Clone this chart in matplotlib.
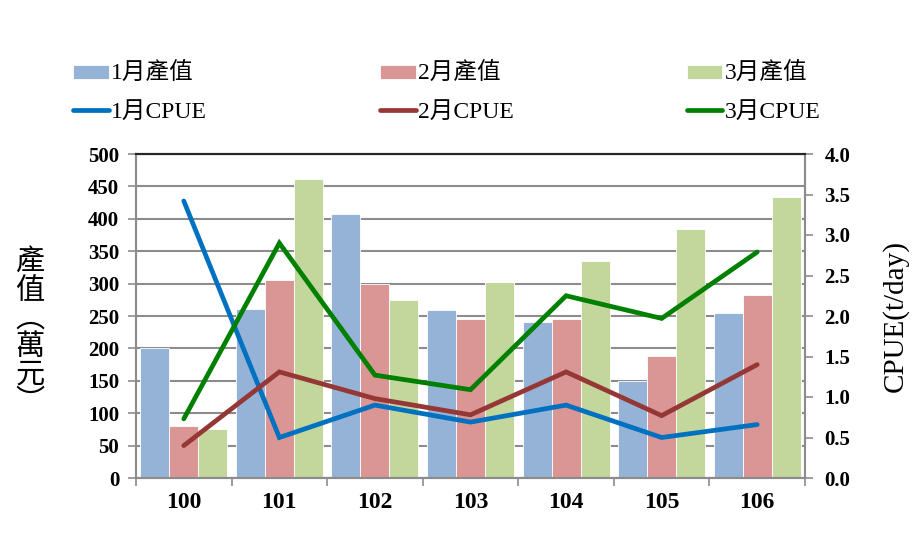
import numpy as np
import matplotlib
matplotlib.use("Agg")
import matplotlib.pyplot as plt

plt.rcParams['font.family'] = ['Liberation Serif', 'Noto Sans CJK TC']

# data
years = ['100', '101', '102', '103', '104', '105', '106']
val_jan = [200, 261, 407, 259, 241, 150, 254]
val_feb = [80, 306, 300, 245, 245, 189, 283]
val_mar = [76, 461, 274, 302, 335, 384, 433]
cpue_jan = [3.42, 0.50, 0.90, 0.69, 0.90, 0.50, 0.66]
cpue_feb = [0.40, 1.31, 0.98, 0.78, 1.31, 0.77, 1.40]
cpue_mar = [0.73, 2.90, 1.27, 1.09, 2.25, 1.97, 2.79]

bar_colors = ['#95B3D7', '#DA9694', '#C3D69B']
line_colors = ['#0070C0', '#953735', '#008000']
grid_c = '#8C8C8C'

fig = plt.figure(figsize=(9.22, 5.54), dpi=100)
ax = fig.add_axes([136/922, 1-478/554, (805-136)/922, (478-154)/554])
ax2 = ax.twinx()

x = np.arange(len(years))
w = 0.303
bars = []
for i, (vals, c, lab) in enumerate(zip([val_jan, val_feb, val_mar], bar_colors,
                                        ['1月產值', '2月產值', '3月產值'])):
    b = ax.bar(x + (i - 1) * w, vals, width=w, color=c, edgecolor='white',
               linewidth=0.6, label=lab, zorder=2)
    bars.append(b)

lines = []
for vals, c, lab in zip([cpue_jan, cpue_feb, cpue_mar], line_colors,
                        ['1月CPUE', '2月CPUE', '3月CPUE']):
    l, = ax2.plot(x, vals, color=c, lw=3.4, solid_capstyle='round',
                  solid_joinstyle='miter', label=lab, zorder=3)
    lines.append(l)

# left axis
ax.set_xlim(-0.5, len(years) - 0.5)
ax.set_ylim(0, 500)
ax.set_yticks(np.arange(0, 501, 50))
ax.yaxis.grid(True, color=grid_c, lw=1.5, zorder=0)
ax.set_axisbelow(True)
ax.set_xticks(x)
ax.set_xticklabels(years, fontsize=17, fontweight='bold')
ax.set_xticks(np.arange(-0.5, len(years), 1), minor=True)
ax.tick_params(axis='x', which='major', length=0, pad=10)
ax.tick_params(axis='x', which='minor', length=6, color=grid_c, width=1.2)
ax.tick_params(axis='y', length=6, color=grid_c, width=1.2, labelsize=15, pad=6)
for t in ax.get_yticklabels():
    t.set_fontweight('bold')

# right axis
ax2.set_ylim(0, 4)
ax2.set_yticks(np.arange(0, 4.01, 0.5))
ax2.set_yticklabels(['%.1f' % v for v in np.arange(0, 4.01, 0.5)],
                    fontsize=15, fontweight='bold')
ax2.tick_params(axis='y', length=6, color=grid_c, width=1.2, pad=8)

for a in (ax, ax2):
    for s in ['left', 'right', 'bottom']:
        a.spines[s].set_color(grid_c)
        a.spines[s].set_linewidth(1.5)
    a.spines['top'].set_color('#262626')
    a.spines['top'].set_linewidth(1.5)

# vertical left label
fig.text(30/922, 1-333/554, '產\n值\n︵\n萬\n元\n︶', fontsize=21,
         ha='center', va='center', linespacing=1.08)
fig.text(895/922, 1-316/554, 'CPUE(t/day)', fontsize=21, rotation=90,
         ha='center', va='center')

handles = [bars[0], lines[0], bars[1], lines[1], bars[2], lines[2]]
labels = [h.get_label() for h in handles]
fig.legend(handles, labels, ncol=3, loc='lower left',
           bbox_to_anchor=(64/922, 1-132/554, (830-64)/922, 80/554),
           mode='expand', frameon=False, fontsize=17, handlelength=1.5,
           handleheight=0.55, handletextpad=0.1, labelspacing=0.7,
           borderaxespad=0)

fig.savefig('out.png', dpi=100)
